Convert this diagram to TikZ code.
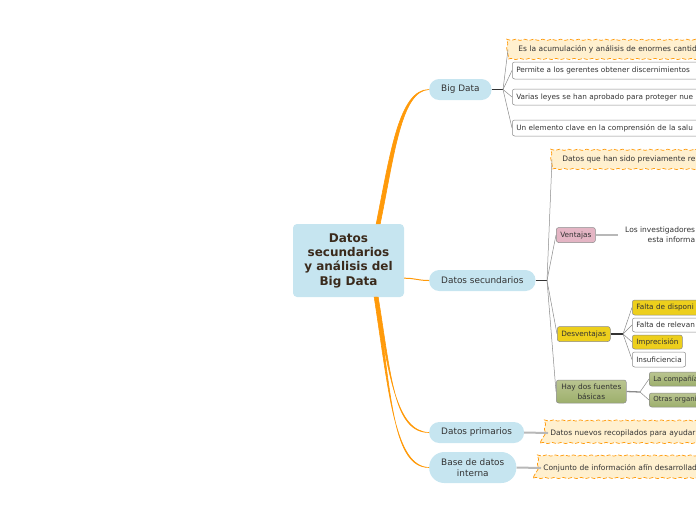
\documentclass[tikz,border=0pt]{standalone}
\usepackage{fontspec}
\setmainfont{DejaVu Sans}
\usetikzlibrary{calc,decorations.pathmorphing}
\definecolor{mmblue}{HTML}{C6E5F0}
\definecolor{mmorange}{HTML}{FF9A0A}
\definecolor{mmcream}{HTML}{FFF0CF}
\definecolor{mmpink}{HTML}{E4B5C4}
\definecolor{mmyellow}{HTML}{EDCF1C}
\definecolor{mmgreenA}{HTML}{BAC591}
\definecolor{mmgreenB}{HTML}{9DAF6C}
\definecolor{mmline}{HTML}{8A8A8A}
\definecolor{mmdark}{HTML}{333333}
\definecolor{mmbrown}{HTML}{3A2A1C}
\definecolor{mmgrey}{HTML}{B8B8B8}

\tikzset{
  topic/.style={fill=mmblue, rounded corners=10pt, minimum height=21pt, inner xsep=12pt,
    anchor=west, text=mmdark, align=center, font=\fontsize{8.9}{11.5}\selectfont},
  note/.style={fill=mmcream, draw=mmorange, line width=0.7pt, dash pattern=on 4pt off 2pt,
    decorate, decoration={snake, amplitude=0.6pt, segment length=9pt},
    anchor=west, inner xsep=10pt, minimum height=19pt, text width=260pt, align=left,
    text=mmdark, font=\fontsize{7.5}{9}\selectfont},
  box/.style={draw=mmline, line width=0.5pt, rounded corners=2.5pt, fill=white, anchor=west,
    inner xsep=4pt, inner ysep=0pt, minimum height=16pt, text=mmdark, font=\fontsize{7.3}{9}\selectfont},
  long/.style={text width=240pt, align=left},
  link/.style={draw=mmline, line width=0.5pt},
  stub/.style={draw=mmdark, line width=1.3pt},
  bar/.style={draw=mmgrey, line width=2pt}
}

\begin{document}
\begin{tikzpicture}[x=1pt, y=-1pt]
    \useasboundingbox (0,0) rectangle (696,520);
    \clip (0,0) rectangle (696,520);

    \node[fill=mmblue, rounded corners=4pt, minimum width=111pt, minimum height=73pt,
          align=center, text=mmbrown, font=\fontsize{12}{14.3}\selectfont\bfseries]
          (c) at (348.5,260.5) {Datos\\secundarios\\y análisis del\\Big Data};

    \node[topic] (bd) at (429,89.5) {Big Data};
    \node[topic] (ds) at (429,280.5) {Datos secundarios};
    \node[topic] (dp) at (429,432.5) {Datos primarios};
    \node[topic, rounded corners=15pt, minimum height=31pt] (bi) at (429,467.5) {Base de datos\\interna};

    \filldraw[mmorange, line width=0.6pt] ($(c.north east)+(-28,0)$) .. controls +(14,-70) and +(-30,0) .. (bd.west)
        .. controls +(-28,1) and +(14,-68) .. ($(c.north east)+(-24,0)$) -- cycle;
    \draw[mmorange, line width=1pt] ($(c.south east)+(0,-19)$) .. controls +(12,0) and +(-12,0) .. (ds.west);
    \filldraw[mmorange, line width=0.6pt] ($(c.south east)+(-26,0)$) .. controls +(13,80) and +(-35,0) .. (dp.west)
        .. controls +(-33,-1) and +(14,78) .. ($(c.south east)+(-29,0)$) -- cycle;
    \filldraw[mmorange, line width=0.6pt] ($(c.south east)+(-27,0)$) .. controls +(14,100) and +(-36,0) .. (bi.west)
        .. controls +(-34,-1) and +(15,98) .. ($(c.south east)+(-30,0)$) -- cycle;

    \node[note] (bd1) at (508,49.5) {Es la acumulación y análisis de enormes cantid};
    \node[box, long, minimum height=17pt] (bd2) at (512,70.5) {Permite a los gerentes obtener discernimientos};
    \node[box, long] (bd3) at (512,97) {Varias leyes se han aprobado para proteger nue};
    \node[box, long] (bd4) at (512,128) {Un elemento clave en la comprensión de la salu};
    \coordinate (bdj) at (503,89.5);
    \draw[stub] (bd.east) -- (bdj);
    \foreach \n in {bd1,bd2,bd3,bd4}
        \draw[link] (bdj) -- (\n.west);

    \node[note] (ds1) at (552,159.5) {Datos que han sido previamente re};
    \node[box, fill=mmpink, minimum height=15pt] (ds2) at (556,235) {Ventajas};
    \node[anchor=west, align=right, inner xsep=7pt, text=mmdark, font=\fontsize{7.5}{10}\selectfont]
        (ds2t) at (618,235) {Los investigadores\\esta informa};
    \node[box, fill=mmyellow, minimum height=15pt] (ds3) at (557,334) {Desventajas};
    \node[box, top color=mmgreenA, bottom color=mmgreenB, align=center, inner xsep=5pt, minimum height=23pt,
          font=\fontsize{7.4}{10}\selectfont] (ds4) at (556,391.5) {Hay dos fuentes\\básicas};
    \coordinate (dsj) at (547,280.5);
    \draw[stub] (ds.east) -- (dsj);
    \foreach \n in {ds1,ds2,ds3,ds4}
        \draw[link] (dsj) -- (\n.west);
    \draw[bar, line width=1.5pt] (ds2.east) -- (ds2t.west);

    \node[box, long, fill=mmyellow, minimum height=15pt, font=\fontsize{7.3}{9}\selectfont] (de1) at (632,307.5) {Falta de disponi};
    \node[box, long, minimum height=14pt, font=\fontsize{7.3}{9}\selectfont] (de2) at (632,325) {Falta de relevan};
    \node[box, fill=mmyellow, minimum height=14pt, font=\fontsize{7.3}{9}\selectfont] (de3) at (632,342) {Imprecisión};
    \node[box, minimum height=15pt, font=\fontsize{7.3}{9}\selectfont] (de4) at (632,359.5) {Insuficiencia};
    \coordinate (dej) at (623,334);
    \draw[stub] (ds3.east) -- (dej);
    \foreach \n in {de1,de2,de3,de4}
        \draw[link] (dej) -- (\n.west);

    \node[box, long, top color=mmgreenA, bottom color=mmgreenB, minimum height=14pt, font=\fontsize{7}{8}\selectfont]
        (hf1) at (649,379) {La compañía};
    \node[box, long, top color=mmgreenA, bottom color=mmgreenB, minimum height=14pt, font=\fontsize{7}{8}\selectfont]
        (hf2) at (649,400) {Otras organiza};
    \coordinate (hfj) at (640,392);
    \draw[bar, draw=mmline, line width=1.3pt] (ds4.east) -- (hfj);
    \foreach \n in {hf1,hf2}
        \draw[link] (hfj) -- (\n.west);

    \node[note, minimum height=20pt] (dp1) at (540,433) {Datos nuevos recopilados para ayudar};
    \node[note, minimum height=20pt] (bi1) at (533,468) {Conjunto de información afín desarrollad};
    \draw[bar] (dp.east) -- ([xshift=8pt]dp1.west);
    \draw[bar] (bi.east) -- ([xshift=8pt]bi1.west);
\end{tikzpicture}
\end{document}
